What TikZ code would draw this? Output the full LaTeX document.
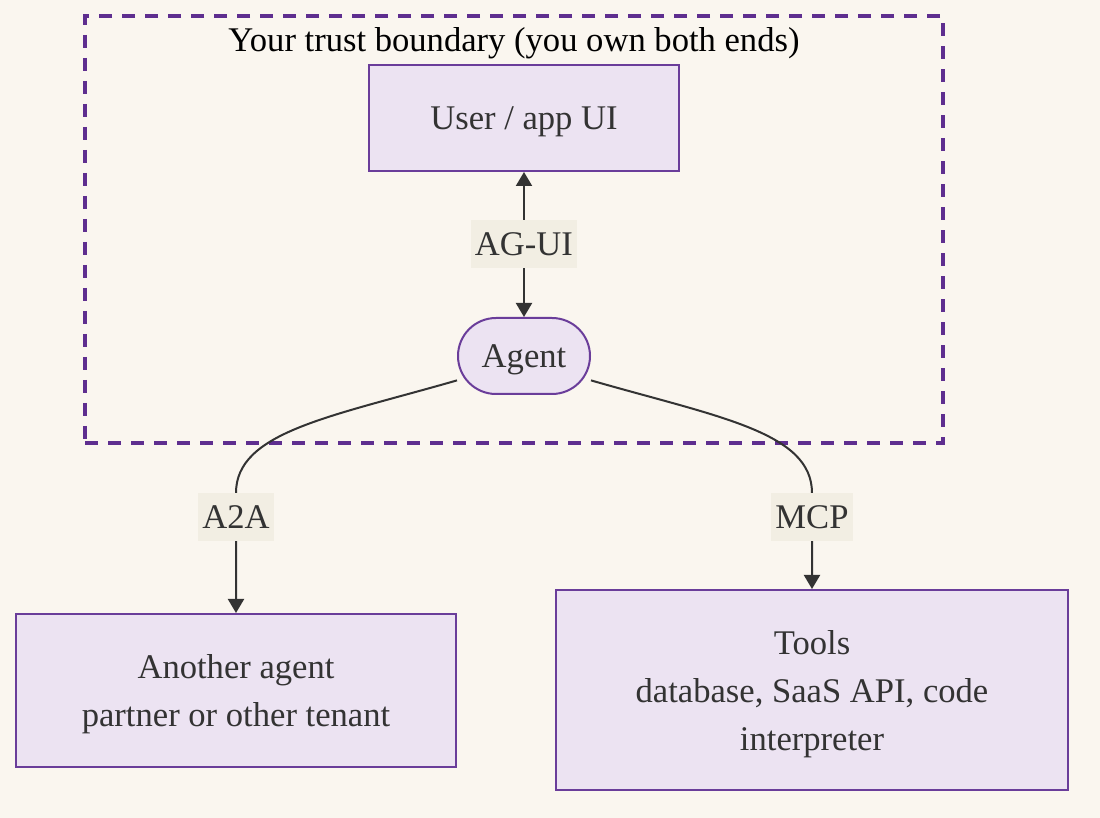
\documentclass[tikz,border=0pt]{standalone}
\usepackage{fontspec}
\setmainfont{Liberation Serif}
\usepackage{xcolor}
\usetikzlibrary{arrows.meta,positioning,calc}
\definecolor{paper}{HTML}{FAF6EF}
\definecolor{lilac}{HTML}{ECE3F2}
\definecolor{edge}{HTML}{6A3D9A}
\definecolor{trust}{HTML}{5E2E8F}
\definecolor{tag}{HTML}{F2EEE3}
\definecolor{ink}{HTML}{333333}

\begin{document}
\begin{tikzpicture}[
  x=0.5pt, y=-0.5pt,
  font=\fontsize{17.3}{24}\selectfont,
  box/.style={draw=edge, line width=1pt, fill=lilac, align=center, text=ink, inner sep=0pt, text depth=0pt},
  pill/.style={box, rounded corners=19pt, minimum width=66pt, minimum height=38pt},
  lbl/.style={fill=tag, text=ink, inner xsep=2pt, minimum height=24pt},
  arr/.style={-{Triangle[length=7pt,width=8pt]}, line width=1pt, draw=ink},
  twoway/.style={arr, {Triangle[length=7pt,width=8pt]}-{Triangle[length=7pt,width=8pt]}},
  boundary/.style={draw=trust, line width=2pt, dash pattern=on 6.5pt off 5pt, minimum width=429pt, minimum height=213.5pt, inner sep=0pt}
]
\useasboundingbox (0,0) rectangle (1100,818);
\fill[paper] (0,0) rectangle (1100,818);
\node[boundary] (trustbox) at (514,229.5) {};
\node[text=black] (title) at (514,43) {Your trust boundary (you own both ends)};
\node[pill] (agent) at (524,356) {Agent};
\node[box, minimum width=155pt, minimum height=53pt, above=72.5pt of agent] (ui) {User / app UI};
\node[box, minimum width=220pt, minimum height=76.5pt] (another) at (236,690.5) {Another agent\\partner or other tenant};
\node[box, minimum width=256pt, minimum height=100pt] (tools) at (812,690) {Tools\\database, SaaS API, code\\interpreter};
\draw[twoway] (agent) -- node[lbl]{AG-UI} (ui);
\draw[arr] (agent.200) .. controls (330,417) and (236,432) .. (236,493) -- node[lbl, pos=0.2]{A2A} (another.north);
\draw[arr] (agent.340) .. controls (718,417) and (812,432) .. (812,493) -- node[lbl, pos=0.25]{MCP} (tools.north);
\end{tikzpicture}
\end{document}
